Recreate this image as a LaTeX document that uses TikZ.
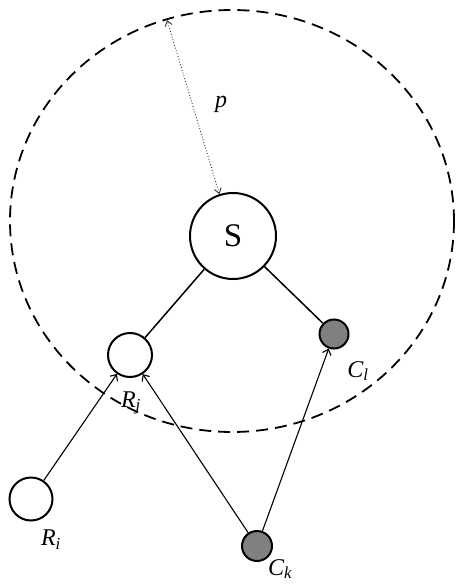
\documentclass[tikz,border=0pt]{standalone}
\usepackage{fontspec}
\setmainfont{Liberation Serif}
\usetikzlibrary{positioning,arrows.meta}
\tikzset{
	topoNode/.style={
		draw,
		circle,
		line width=2pt,
		inner sep=0pt
	},
	topoServer/.style={topoNode, minimum size=86pt, font=\fontsize{33}{37}\selectfont},
	topoRelay/.style={topoNode, fill=white},
	topoClient/.style={topoNode, fill=black!50},
	topoLabel/.style={font=\fontsize{24}{28}\selectfont\itshape, inner sep=1pt},
	topoLink/.style={line width=1.5pt},
	topoFlow/.style={-{Straight Barb[length=5pt,width=9pt]}, line width=1.1pt},
	topoRange/.style={{Straight Barb[length=5pt,width=7pt]}-{Straight Barb[length=5pt,width=7pt]}, dotted, line width=0.9pt, black!80},
	topoBoundary/.style={line width=1.8pt, dash pattern=on 12pt off 7pt}
}
\newcommand{\topoSub}[2]{#1\textsubscript{#2}}

\begin{document}
\begin{tikzpicture}[x=1pt, y=-1pt]

	\useasboundingbox (0,0) rectangle (456,585);

	% Coverage boundary
	\draw[topoBoundary] (232,221) ellipse [x radius=222, y radius=211];
	\coordinate (rim) at (167,20);

	% Nodes
	\node[topoServer] (S) at (233,236) {S};
	\node[topoRelay, minimum size=44pt] (Rj) at (130,355) {};
	\node[topoClient, minimum size=29pt] (Cl) at (334,334) {};
	\node[topoRelay, minimum size=43pt] (Ri) at (31,499) {};
	\node[topoClient, minimum size=30pt] (Ck) at (257,546) {};

	% Labels
	\node[topoLabel] (pLabel) at (221,104) {p};
	\node[topoLabel] (RjLabel) at (131,403) {\topoSub{R}{j}};
	\node[topoLabel] (ClLabel) at (358,371) {\topoSub{C}{l}};
	\node[topoLabel] (RiLabel) at (51,540) {\topoSub{R}{i}};
	\node[topoLabel] (CkLabel) at (280,569) {\topoSub{C}{k}};

	% Links
	\draw[topoLink] (S) -- (Rj);
	\draw[topoLink] (S) -- (Cl);
	\draw[topoFlow] (Ri) -- (Rj);
	\draw[topoFlow] (Ck) -- (Rj);
	\draw[topoFlow] (Ck) -- (Cl);
	\draw[topoRange] (S.108) -- (rim);

\end{tikzpicture}
\end{document}
